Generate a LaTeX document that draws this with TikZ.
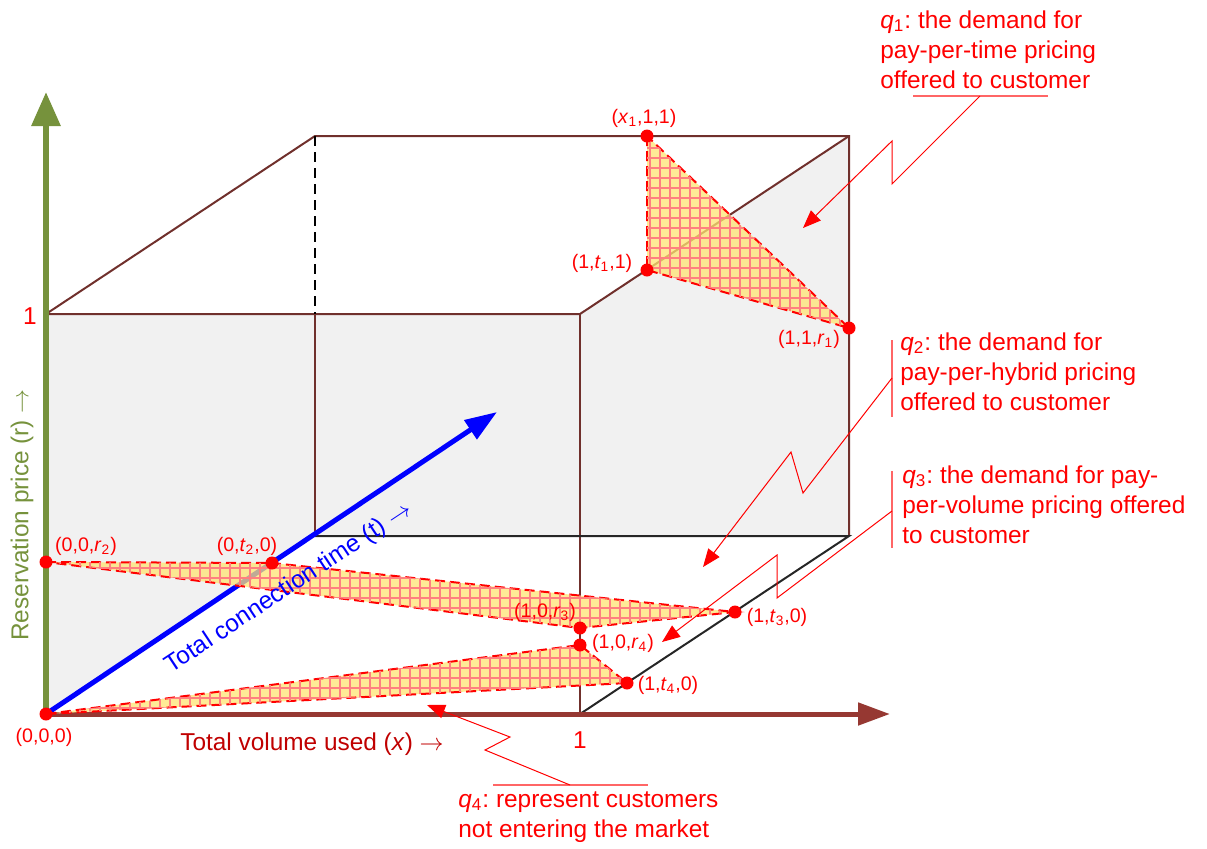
\documentclass[tikz,border=0pt]{standalone}
\usepackage{fontspec}
\setmainfont{Liberation Sans}
\usepackage{tikz}
\usetikzlibrary{arrows.meta,patterns.meta}
\definecolor{boxBrown}{RGB}{112,48,44}
\definecolor{axGreen}{RGB}{118,146,60}
\definecolor{axRed}{RGB}{150,56,50}
\definecolor{lblRed}{RGB}{192,0,0}
\definecolor{wallGray}{RGB}{241,241,241}
\definecolor{qYellow}{RGB}{255,228,115}
\frenchspacing

\begin{document}
\begin{tikzpicture}[x=0.5pt,y=-0.5pt,
  boxline/.style={boxBrown, line width=1pt},
  ptdot/.style={circle, fill=red, inner sep=0pt, minimum size=6.5pt},
  ptlbl/.style={text=red, font=\fontsize{9.8}{12}\selectfont, inner sep=0pt},
  big/.style={font=\fontsize{12.2}{15}\selectfont, inner sep=0pt},
  qtxt/.style={big, text=red, align=left, anchor=north west},
  leader/.style={red, line width=0.5pt, -{Triangle[length=9pt,width=7pt]}},
  accent/.style={red!60, line width=0.6pt},
  qarea/.style={fill=qYellow, fill opacity=0.75, draw=red, line width=1pt,
    dash pattern=on 5pt off 2.5pt,
    postaction={pattern={Lines[angle=0,distance=5pt,line width=0.7pt]}, pattern color=red!50, fill opacity=0.4},
    postaction={pattern={Lines[angle=90,distance=5pt,line width=0.7pt]}, pattern color=red!50, fill opacity=0.4}}]
\useasboundingbox (0,0) rectangle (1207,848);

\coordinate (o) at (46,714);
\coordinate (fbr) at (580,714);
\coordinate (ftl) at (46,314);
\coordinate (ftr) at (580,314);
\coordinate (bbl) at (315,536);
\coordinate (bbr) at (849,536);
\coordinate (btl) at (315,136);
\coordinate (btr) at (849,136);
\coordinate (bml) at (315,314);
\coordinate (rtip) at (46,92);
\coordinate (xtip) at (890,714);
\coordinate (ttip) at (497,412);

\fill[wallGray] (ftl) -- (ftr) -- (btr) -- (bbr) -- (bbl) -- (o) -- cycle;
\draw[boxline] (ftl) -- (btl) -- (btr) -- (bbr);
\draw[boxline] (ftl) -- (ftr) -- (btr);
\draw[boxline] (ftr) -- (fbr);
\draw[boxline] (bml) -- (bbl);
\draw[black, line width=0.8pt, dash pattern=on 5pt off 3pt] (btl) -- (bml);
\draw[black!85, line width=1pt] (bbl) -- (bbr) -- (fbr);

\draw[axGreen, line width=3pt, -{Triangle[length=17pt,width=14pt]}] (o) -- (rtip);
\draw[axRed, line width=2.5pt, -{Triangle[length=16pt,width=11pt]}] (o) -- (xtip);
\draw[blue, line width=2.5pt, -{Triangle[length=16pt,width=11pt]}] (o) -- (ttip);

\coordinate (p000) at (46,714);
\coordinate (p00r2) at (46,562);
\coordinate (p0t20) at (272,563);
\coordinate (p10r3) at (580,628);
\coordinate (p10r4) at (580,645);
\coordinate (p1t30) at (735,612);
\coordinate (p1t40) at (627,683);
\coordinate (px11) at (647,136);
\coordinate (p1t11) at (647,270);
\coordinate (p11r1) at (849,328);

\path[qarea] (px11) -- (p1t11) -- (p11r1) -- cycle;
\path[qarea] (p00r2) -- (p0t20) -- (p1t30) -- (p10r3) -- cycle;
\path[qarea] (p000) -- (p10r4) -- (p1t40) -- cycle;

\foreach \p in {p000,p00r2,p0t20,p10r3,p10r4,p1t30,p1t40,px11,p1t11,p11r1}
  \node[ptdot] (d\p) at (\p) {};

\node[ptlbl] (l000) at (44,737) {(0,0,0)};
\node[ptlbl] (l00r2) at (86,546) {(0,0,\textit{r}\textsubscript{2})};
\node[ptlbl] (l0t20) at (247,546) {(0,\textit{t}\textsubscript{2},0)};
\node[ptlbl] (l10r3) at (545,612) {(1,0,\textit{r}\textsubscript{3})};
\node[ptlbl] (l10r4) at (623,643) {(1,0,\textit{r}\textsubscript{4})};
\node[ptlbl] (l1t30) at (777,617) {(1,\textit{t}\textsubscript{3},0)};
\node[ptlbl] (l1t40) at (668,685) {(1,\textit{t}\textsubscript{4},0)};
\node[ptlbl] (lx11) at (644,118) {(\textit{x}\textsubscript{1},1,1)};
\node[ptlbl] (l1t11) at (602,263) {(1,\textit{t}\textsubscript{1},1)};
\node[ptlbl] (l11r1) at (809,339) {(1,1,\textit{r}\textsubscript{1})};

\node[big, text=red] (oneR) at (30,316) {1};
\node[big, text=red] (oneX) at (580,740) {1};
\node[big, text=lblRed] (xlab) at (312,744) {Total volume used (\textit{x}) $\rightarrow$};
\node[big, text=axGreen, rotate=90] (rlab) at (22,515) {Reservation price (r) $\rightarrow$};
\node[big, text=blue, rotate=33.5] (tlab) at (289,588) {Total connection time (t) $\rightarrow$};

\node[qtxt] (q1) at (880,10) {\textit{q}\textsubscript{1}: the demand for\\pay-per-time pricing\\offered to customer};
\node[qtxt] (q2) at (900,332) {\textit{q}\textsubscript{2}: the demand for\\pay-per-hybrid pricing\\offered to customer};
\node[qtxt] (q3) at (902,465) {\textit{q}\textsubscript{3}: the demand for pay-\\per-volume pricing offered\\to customer};
\node[qtxt] (q4) at (458,791) {\textit{q}\textsubscript{4}: represent customers\\not entering the market};

\coordinate (q1foot) at (980,96);
\coordinate (q1tip) at (803,228);
\coordinate (q2foot) at (892,378);
\coordinate (q2tip) at (703,567);
\coordinate (q3foot) at (892,511);
\coordinate (q3tip) at (662,642);
\coordinate (q4foot) at (570,785);
\coordinate (q4tip) at (427,705);

\draw[accent] (913,96) -- (1048,96);
\draw[accent] (892,340) -- (892,417);
\draw[accent] (892,471) -- (892,548);
\draw[accent] (493,785) -- (648,785);

\draw[leader] (q1foot) -- (892,184) -- (892,141) -- (q1tip);
\draw[leader] (q2foot) -- (803,493) -- (791,452) -- (q2tip);
\draw[leader] (q3foot) -- (777,598) -- (777,555) -- (q3tip);
\draw[leader] (q4foot) -- (485,750) -- (510,737) -- (q4tip);
\end{tikzpicture}
\end{document}
